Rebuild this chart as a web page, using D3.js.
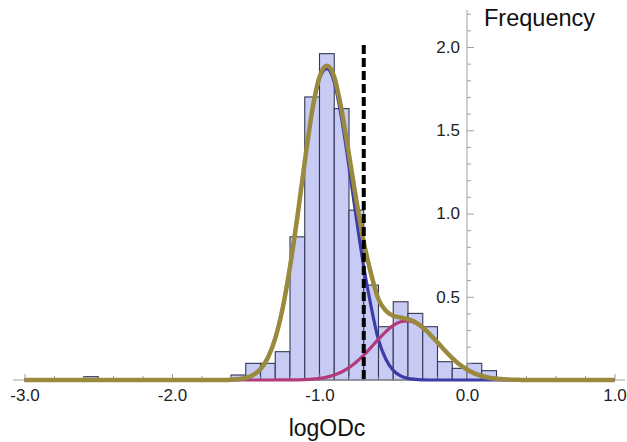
<!DOCTYPE html>
<html lang="en">
<head>
  <meta charset="UTF-8">
  <title>logODc histogram with mixture fit</title>
  <style>
    body {
      margin: 0;
      background: #fff;
      font-family: "Liberation Sans", Arial, sans-serif;
    }
    svg {
      display: block;
    }
    .tick text {
      fill: #1e1e1e;
      font-size: 17px;
      font-family: "Liberation Sans", Arial, sans-serif;
    }
    .tick line {
      stroke: #a0a0a0;
    }
  </style>
</head>
<body>
  <svg width="627" height="442"></svg>

  <script src="https://d3js.org/d3.v7.min.js"></script>
  <script>
    // histogram bins (left edge, density)
    const binStart = [-2.6, -1.6, -1.5, -1.4, -1.3, -1.2, -1.1, -1.0, -0.9, -0.8, -0.7,
                      -0.6, -0.5, -0.4, -0.3, -0.2, -0.1, 0.0, 0.1];
    const binHeight = [0.02, 0.03, 0.10, 0.10, 0.17, 0.86, 1.70, 1.96, 1.63, 1.02, 0.57,
                       0.32, 0.47, 0.40, 0.32, 0.11, 0.07, 0.10, 0.056];
    const binWidth = 0.1;

    // fitted curves
    const curveX = [-3.0, -2.0, -1.75, -1.7, -1.65,
      -1.60, -1.55, -1.50, -1.45, -1.40, -1.35, -1.30, -1.25, -1.20, -1.15,
      -1.10, -1.05, -1.00, -0.95, -0.90, -0.85, -0.80, -0.75, -0.70, -0.65,
      -0.60, -0.55, -0.50, -0.45, -0.40, -0.35, -0.30, -0.25, -0.20, -0.15,
      -0.10, -0.05, 0.00, 0.05, 0.10, 0.15, 0.20, 0.25, 0.30, 0.35, 0.40,
      0.5, 1.0];
    const blueY = [0, 0, 0, 0, 0.0005,
      0.002, 0.005, 0.012, 0.030, 0.066, 0.134, 0.25, 0.43, 0.68, 0.98,
      1.31, 1.61, 1.81, 1.87, 1.79, 1.57, 1.28, 0.97, 0.68, 0.44,
      0.24, 0.125, 0.058, 0.025, 0.010, 0.004, 0.001, 0, 0, 0,
      0, 0, 0, 0, 0, 0, 0, 0, 0, 0, 0,
      0, 0];
    const magentaY = [0, 0, 0, 0, 0,
      0, 0, 0, 0, 0, 0, 0.0001, 0.0003, 0.0006, 0.0013,
      0.0026, 0.005, 0.0097, 0.0175, 0.030, 0.048, 0.074, 0.108, 0.149, 0.196,
      0.245, 0.291, 0.328, 0.350, 0.355, 0.343, 0.314, 0.273, 0.226, 0.177,
      0.132, 0.093, 0.063, 0.040, 0.024, 0.014, 0.008, 0.004, 0.002, 0.001, 0,
      0, 0];
    const sumY = [0, 0, 0, 0, 0.0005,
      0.002, 0.005, 0.012, 0.030, 0.066, 0.134, 0.25, 0.43, 0.68, 0.98,
      1.31, 1.615, 1.82, 1.887, 1.82, 1.62, 1.354, 1.078, 0.829, 0.636,
      0.485, 0.416, 0.386, 0.375, 0.365, 0.347, 0.315, 0.273, 0.226, 0.177,
      0.132, 0.093, 0.063, 0.040, 0.024, 0.014, 0.008, 0.004, 0.002, 0.001, 0,
      0, 0];

    const cutoff = -0.70;

    const xMajor = [-3, -2, -1, 0, 1];
    const yMajor = [0.5, 1.0, 1.5, 2.0];

    const svg = d3.select("svg");

    const x = d3.scaleLinear().domain([-3, 1]).range([24.5, 614.5]);
    const y = d3.scaleLinear().domain([0, 2]).range([380, 47]);

    // minor tick positions
    const xMinor = d3.range(-3, 1.001, 0.2).map(v => +v.toFixed(1))
      .filter(v => !xMajor.includes(v));
    const yMinor = d3.range(0.1, 2.201, 0.1).map(v => +v.toFixed(1))
      .filter(v => !yMajor.includes(v));

    // bars
    svg.append("g")
      .selectAll("rect")
      .data(binStart.map((s, i) => ({ s, h: binHeight[i] })))
      .join("rect")
      .attr("x", d => x(d.s))
      .attr("width", d => x(d.s + binWidth) - x(d.s))
      .attr("y", d => y(d.h))
      .attr("height", d => y(0) - y(d.h))
      .attr("fill", "#c8ccf4")
      .attr("stroke", "#333852")
      .attr("stroke-width", 1.1);

    // axis lines
    svg.append("line")
      .attr("x1", 13).attr("x2", 625)
      .attr("y1", y(0)).attr("y2", y(0))
      .attr("stroke", "#a0a0a0");
    svg.append("line")
      .attr("x1", x(0)).attr("x2", x(0))
      .attr("y1", y(0)).attr("y2", 10)
      .attr("stroke", "#a0a0a0");

    // x ticks
    svg.append("g")
      .attr("transform", `translate(0,${y(0)})`)
      .call(d3.axisBottom(x).tickValues(xMajor).tickFormat(d => d.toFixed(1))
        .tickSizeInner(-6).tickSizeOuter(0).tickPadding(9))
      .call(g => g.select(".domain").remove());
    svg.append("g")
      .attr("transform", `translate(0,${y(0)})`)
      .call(d3.axisBottom(x).tickValues(xMinor).tickFormat("")
        .tickSizeInner(-4).tickSizeOuter(0))
      .call(g => g.select(".domain").remove());

    // y ticks
    svg.append("g")
      .attr("transform", `translate(${x(0)},0)`)
      .call(d3.axisLeft(y).tickValues(yMajor).tickFormat(d => d.toFixed(1))
        .tickSizeInner(-7).tickSizeOuter(0).tickPadding(7))
      .call(g => g.select(".domain").remove());
    svg.append("g")
      .attr("transform", `translate(${x(0)},0)`)
      .call(d3.axisLeft(y).tickValues(yMinor).tickFormat("")
        .tickSizeInner(-4).tickSizeOuter(0))
      .call(g => g.select(".domain").remove());

    // curves
    const line = d3.line()
      .x(d => x(d[0]))
      .y(d => y(d[1]))
      .curve(d3.curveMonotoneX);

    const series = [
      { ys: blueY, color: "#3c3ca8", w: 3.2 },
      { ys: magentaY, color: "#b23a7c", w: 3.2 },
      { ys: sumY, color: "#998a3e", w: 4.5 }
    ];
    series.forEach(s => {
      svg.append("path")
        .attr("d", line(curveX.map((v, i) => [v, s.ys[i]])))
        .attr("fill", "none")
        .attr("stroke", s.color)
        .attr("stroke-width", s.w)
        .attr("stroke-linejoin", "round");
    });

    // threshold
    svg.append("line")
      .attr("x1", x(cutoff)).attr("x2", x(cutoff))
      .attr("y1", 45).attr("y2", y(0))
      .attr("stroke", "#000")
      .attr("stroke-width", 4)
      .attr("stroke-dasharray", "9,4");

    // labels
    svg.append("text")
      .attr("x", 484).attr("y", 26)
      .attr("font-size", 23.5)
      .attr("fill", "#111")
      .text("Frequency");

    svg.append("text")
      .attr("x", 327).attr("y", 436)
      .attr("text-anchor", "middle")
      .attr("font-size", 23)
      .attr("fill", "#111")
      .text("logODc");
  </script>
</body>
</html>
